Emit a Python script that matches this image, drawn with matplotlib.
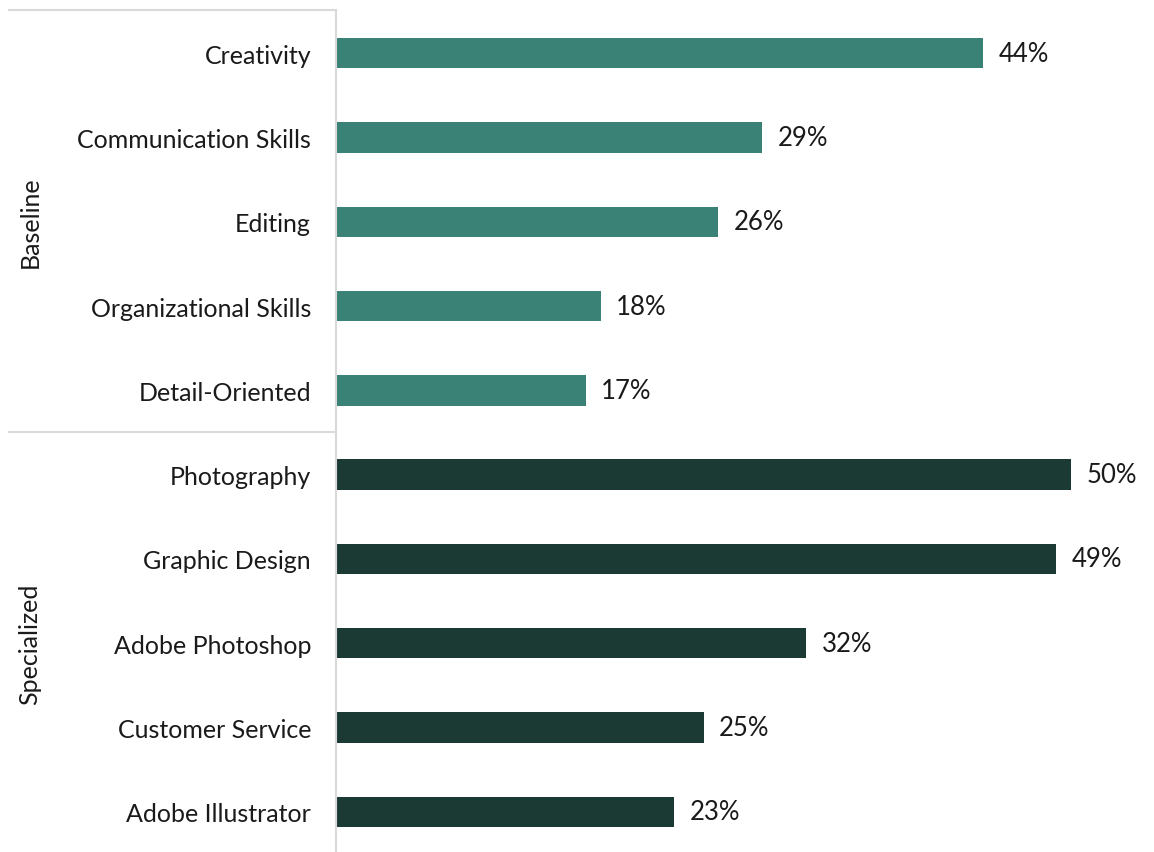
import numpy as np
import matplotlib.pyplot as plt
from matplotlib.lines import Line2D

plt.rcParams['font.family'] = ['Lato', 'DejaVu Sans']

baseline_skills = ["Creativity", "Communication Skills", "Editing",
                   "Organizational Skills", "Detail-Oriented"]
baseline_pct = [44, 29, 26, 18, 17]
specialized_skills = ["Photography", "Graphic Design", "Adobe Photoshop",
                      "Customer Service", "Adobe Illustrator"]
specialized_pct = [50, 49, 32, 25, 23]

teal = "#3a8275"
dark = "#1c3a34"
grid_grey = "#d9d9d9"
text_col = "#1a1a1a"

labels = baseline_skills + specialized_skills
values = baseline_pct + specialized_pct
colors = [teal] * len(baseline_pct) + [dark] * len(specialized_pct)
y = np.arange(len(labels))

fig = plt.figure(figsize=(11.54, 8.53), dpi=100)
ax = fig.add_axes([336 / 1154, 1 - 855 / 853, 1 - 336 / 1154, 843 / 853])

ax.barh(y, values, height=0.36, color=colors)
for yi, v in zip(y, values):
    ax.text(v + 1.05, yi, f"{v}%", va="center", ha="left", fontsize=18.5, color=text_col)

ax.set_ylim(len(labels) - 0.5, -0.5)
ax.set_xlim(0, 818 / 14.7)
ax.set_yticks(y)
ax.set_yticklabels(labels, fontsize=18, color=text_col)
ax.tick_params(axis="y", length=0, pad=18)
ax.set_xticks([])
for side in ["top", "right", "bottom"]:
    ax.spines[side].set_visible(False)
ax.spines["left"].set_color(grid_grey)
ax.spines["left"].set_linewidth(1.5)

# group boxes of the category axis
def fx(px):
    return px / 1154

def fy(py):
    return 1 - py / 853

for py in [11, 433]:
    fig.add_artist(Line2D([fx(9), fx(336)], [fy(py), fy(py)], color=grid_grey, lw=1.5))

fig.text(fx(30), fy(222), "Baseline", rotation=90, ha="center", va="center",
         fontsize=18, color=text_col)
fig.text(fx(30), fy(644), "Specialized", rotation=90, ha="center", va="center",
         fontsize=18, color=text_col)

fig.savefig("out.png", dpi=100)
